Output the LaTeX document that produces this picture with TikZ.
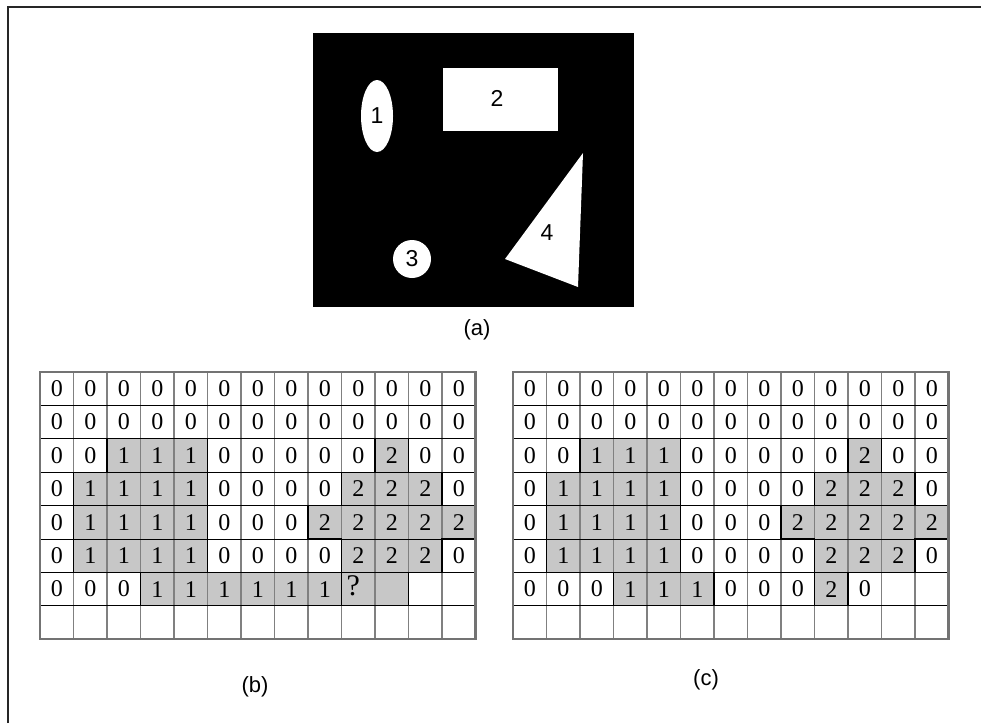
\documentclass[tikz,border=0pt]{standalone}
\usepackage{fontspec}
\setmainfont{Liberation Serif}
\newfontfamily\capfont{Liberation Sans}
\usetikzlibrary{shapes.geometric}

% rows 0-5 are the same in (b) and (c)
\def\toprows{{0,0,0,0,0,0,0,0,0,0,0,0,0},{0,0,0,0,0,0,0,0,0,0,0,0,0},{0,0,1,1,1,0,0,0,0,0,2,0,0},{0,1,1,1,1,0,0,0,0,2,2,2,0},{0,1,1,1,1,0,0,0,2,2,2,2,2},{0,1,1,1,1,0,0,0,0,2,2,2,0}}

\begin{document}
\begin{tikzpicture}[x=1pt,y=-1pt,
    cell/.style={font=\fontsize{24}{24}\selectfont,inner sep=0pt},
    tag/.style={font=\capfont\fontsize{22}{22}\selectfont,inner sep=0pt},
    blob/.style={fill=black!22},
    rim/.style={draw=black,line width=1.1pt},
    vline/.style={draw=black!50,line width=1.6pt},
    hline/.style={draw=black,line width=0.9pt},
    gridbox/.style={draw=black!55,line width=2.4pt},
    object/.style={fill=white,inner sep=0pt,font=\capfont\fontsize{23}{23}\selectfont}]

\useasboundingbox (0,0) rectangle (981,723);
\draw[line width=2pt,black!85] (8,723) -- (8,7) -- (981,7);

% (a) binary image
\node[fill=black,minimum width=321pt,minimum height=274pt,inner sep=0pt,anchor=north west] (img) at (313,33) {};
\node[object,ellipse,minimum width=32pt,minimum height=72pt] (obj1) at (377,116) {1};
\node[object,rectangle,minimum width=115pt,minimum height=63pt] (obj2) at (500.5,99.5) {};
\node[object,circle,minimum size=38pt] (obj3) at (412,259) {3};
\fill[white] (583,153) -- (505,259) -- (578,287) -- cycle;
\node[object,fill=none] (lab2) at (497,98) {2};
\node[object,fill=none] (lab4) at (547,233) {4};
\node[tag] (capa) at (477,330) {(a)};

% (b) labelling in progress
\begin{scope}[shift={(40,372)},x=33.5pt,y=-33.4pt]
\fill[blob] (2,2) -- (5,2) -- (5,6) -- (9,6) -- (9,7) -- (3,7) -- (3,6) -- (1,6) -- (1,3) -- (2,3) -- cycle;
\fill[blob] (10,2) -- (11,2) -- (11,3) -- (12,3) -- (12,4) -- (13,4) -- (13,5) -- (12,5) -- (12,6) -- (11,6) -- (11,7) -- (9,7) -- (9,5) -- (8,5) -- (8,4) -- (9,4) -- (9,3) -- (10,3) -- cycle;
\foreach \c in {1,...,12}
  \draw[vline] (\c,0) -- (\c,8);
\foreach \r in {1,...,7}
  \draw[hline] (0,\r) -- (13,\r);
\draw[rim] (2,2) -- (5,2) -- (5,6) -- (9,6) -- (9,7) -- (3,7) -- (3,6) -- (1,6) -- (1,3) -- (2,3) -- cycle;
\draw[rim] (10,2) -- (11,2) -- (11,3) -- (12,3) -- (12,4) -- (13,4) -- (13,5) -- (12,5) -- (12,6) -- (11,6) -- (11,7) -- (9,7) -- (9,5) -- (8,5) -- (8,4) -- (9,4) -- (9,3) -- (10,3) -- cycle;
\draw[gridbox] (0,0) rectangle (13,8);
\foreach \vals [count=\r from 0] in \toprows
  \foreach \v [count=\c from 0] in \vals
    \node[cell] (b-\r-\c) at (\c+0.5,\r+0.5) {\v};
\foreach \v [count=\c from 0] in {0,0,0,1,1,1,1,1,1}
  \node[cell] (b-6-\c) at (\c+0.5,6.5) {\v};
\node[cell,font=\fontsize{30}{30}\selectfont] (b-6-9) at (9.35,6.4) {?};
\end{scope}
\node[tag] (capb) at (255,687) {(b)};

% (c) labelling finished
\begin{scope}[shift={(513,372)},x=33.5pt,y=-33.4pt]
\fill[blob] (2,2) -- (5,2) -- (5,6) -- (6,6) -- (6,7) -- (3,7) -- (3,6) -- (1,6) -- (1,3) -- (2,3) -- cycle;
\fill[blob] (10,2) -- (11,2) -- (11,3) -- (12,3) -- (12,4) -- (13,4) -- (13,5) -- (12,5) -- (12,6) -- (10,6) -- (10,7) -- (9,7) -- (9,5) -- (8,5) -- (8,4) -- (9,4) -- (9,3) -- (10,3) -- cycle;
\foreach \c in {1,...,12}
  \draw[vline] (\c,0) -- (\c,8);
\foreach \r in {1,...,7}
  \draw[hline] (0,\r) -- (13,\r);
\draw[rim] (2,2) -- (5,2) -- (5,6) -- (6,6) -- (6,7) -- (3,7) -- (3,6) -- (1,6) -- (1,3) -- (2,3) -- cycle;
\draw[rim] (10,2) -- (11,2) -- (11,3) -- (12,3) -- (12,4) -- (13,4) -- (13,5) -- (12,5) -- (12,6) -- (10,6) -- (10,7) -- (9,7) -- (9,5) -- (8,5) -- (8,4) -- (9,4) -- (9,3) -- (10,3) -- cycle;
\draw[gridbox] (0,0) rectangle (13,8);
\foreach \vals [count=\r from 0] in \toprows
  \foreach \v [count=\c from 0] in \vals
    \node[cell] (c-\r-\c) at (\c+0.5,\r+0.5) {\v};
\foreach \v [count=\c from 0] in {0,0,0,1,1,1,0,0,0,2,0}
  \node[cell] (c-6-\c) at (\c+0.5,6.5) {\v};
\end{scope}
\node[tag] (capc) at (706,680) {(c)};
\end{tikzpicture}
\end{document}
